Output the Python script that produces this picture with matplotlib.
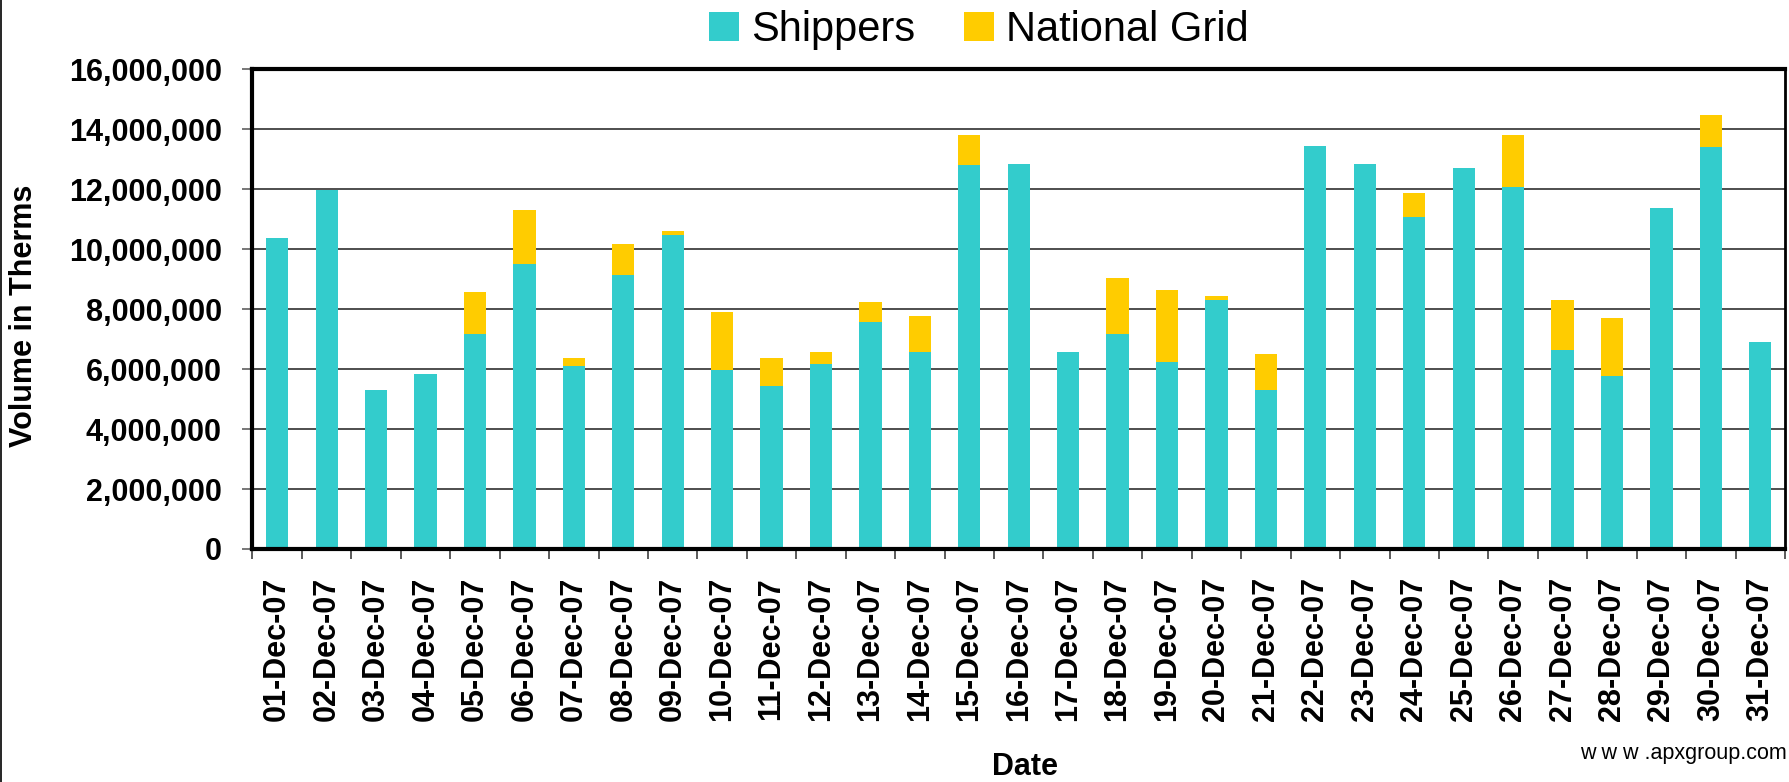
import matplotlib
matplotlib.use("Agg")
import matplotlib.pyplot as plt
from matplotlib.patches import Patch
from matplotlib.lines import Line2D
from matplotlib.ticker import FuncFormatter, MultipleLocator, FixedLocator

dates = ["01-Dec-07", "02-Dec-07", "03-Dec-07", "04-Dec-07", "05-Dec-07", "06-Dec-07",
         "07-Dec-07", "08-Dec-07", "09-Dec-07", "10-Dec-07", "11-Dec-07", "12-Dec-07",
         "13-Dec-07", "14-Dec-07", "15-Dec-07", "16-Dec-07", "17-Dec-07", "18-Dec-07",
         "19-Dec-07", "20-Dec-07", "21-Dec-07", "22-Dec-07", "23-Dec-07", "24-Dec-07",
         "25-Dec-07", "26-Dec-07", "27-Dec-07", "28-Dec-07", "29-Dec-07", "30-Dec-07",
         "31-Dec-07"]

shippers = [10370000, 11970000, 5300000, 5830000, 7180000, 9510000, 6100000, 9130000,
            10470000, 5980000, 5430000, 6170000, 7570000, 6570000, 12800000, 12830000,
            6570000, 7180000, 6230000, 8300000, 5300000, 13430000, 12830000, 11070000,
            12700000, 12070000, 6640000, 5770000, 11370000, 13400000, 6900000]

national_grid = [0, 0, 0, 0, 1390000, 1790000, 270000, 1040000,
                 130000, 1920000, 940000, 400000, 660000, 1200000, 1000000, 0,
                 0, 1850000, 2400000, 130000, 1200000, 0, 0, 800000,
                 0, 1730000, 1660000, 1930000, 0, 1070000, 0]

series_names = ["Shippers", "National Grid"]
colors = ["#33CCCC", "#FFCC00"]

plt.rcParams['font.family'] = ['Liberation Sans', 'DejaVu Sans']

W, H = 1790, 782
fig = plt.figure(figsize=(W / 100, H / 100), dpi=100)
left, right, top, bottom = 252.5, 1785, 69, 549
ax = fig.add_axes([left / W, 1 - bottom / H, (right - left) / W, (bottom - top) / H])

x = list(range(len(dates)))
ax.bar(x, shippers, width=0.45, color=colors[0], zorder=2)
ax.bar(x, national_grid, width=0.45, bottom=shippers, color=colors[1], zorder=2)

ax.set_xlim(-0.5, len(dates) - 0.5)
ax.set_ylim(0, 16000000)
ax.yaxis.set_major_locator(MultipleLocator(2000000))
ax.yaxis.set_major_formatter(FuncFormatter(lambda v, p: f"{v:,.0f}"))
ax.set_axisbelow(True)
ax.yaxis.grid(True, color="#404040", linewidth=1.3)

ax.set_xticks(x)
ax.set_xticklabels(dates, rotation=90, fontsize=22, fontweight="bold")
ax.xaxis.set_minor_locator(FixedLocator([i - 0.5 for i in range(len(dates) + 1)]))
ax.tick_params(axis="x", which="major", length=0, pad=20)
ax.tick_params(axis="x", which="minor", length=7, width=1.2, color="#404040")
ax.tick_params(axis="y", which="major", length=7, width=1.2, color="#606060", pad=15,
               labelsize=22)
for lab in ax.get_yticklabels():
    lab.set_fontweight("bold")

for s in ["left", "bottom", "top"]:
    ax.spines[s].set_linewidth(3)
    ax.spines[s].set_color("black")
ax.spines["right"].set_linewidth(2)
ax.spines["right"].set_color("black")

fig.text(24 / W, 1 - 316 / H, "Volume in Therms", rotation=90, fontsize=22,
         fontweight="bold", ha="center", va="center")
fig.text(1025 / W, 1 - 767 / H, "Date", fontsize=22, fontweight="bold",
         ha="center", va="center")
fig.text(1787 / W, 1 - 754 / H, "w w w .apxgroup.com", fontsize=15.5,
         ha="right", va="center")

handles = [Patch(facecolor=c, edgecolor="none") for c in colors]
fig.legend(handles, series_names, loc="center", bbox_to_anchor=(979 / W, 1 - 30 / H),
           ncol=2, frameon=False, fontsize=30, handlelength=0.72, handleheight=0.72,
           handletextpad=0.29, columnspacing=1.17, borderpad=0, borderaxespad=0)

fig.add_artist(Line2D([1.5 / W, 1.5 / W], [0, 1], transform=fig.transFigure,
                      color="black", linewidth=1.2))

fig.savefig("out.png", dpi=100)
